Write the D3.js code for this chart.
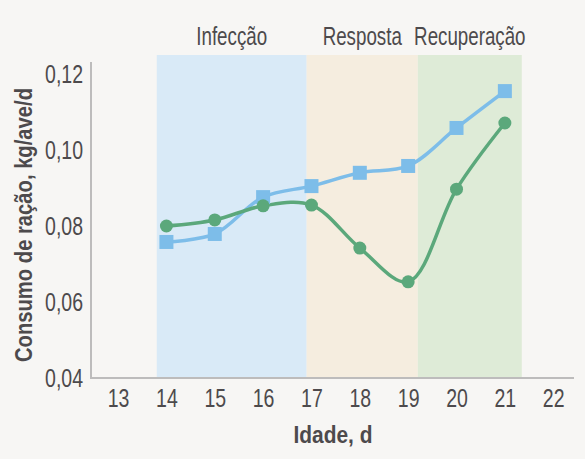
<!DOCTYPE html>
<html>
<head>
<meta charset="utf-8">
<script src="https://cdn.jsdelivr.net/npm/d3@7"></script>
<style>
  body { margin: 0; background: #f7f6f4; }
  svg { display: block; font-family: "Liberation Sans", Arial, sans-serif; }
</style>
</head>
<body>
<div id="chart"></div>
<script>
const days = [14, 15, 16, 17, 18, 19, 20, 21];
const blueSeries = [0.0758, 0.0779, 0.0876, 0.0905, 0.0940, 0.0958, 0.1058, 0.1155];
const greenSeries = [0.0800, 0.0816, 0.0853, 0.0855, 0.0742, 0.0653, 0.0897, 0.1071];
const xTicks = [13, 14, 15, 16, 17, 18, 19, 20, 21, 22];
const yTicks = [0.04, 0.06, 0.08, 0.10, 0.12];
const phases = [
  { name: 'Infecção', start: 13.8, end: 16.9, color: '#d9eaf7' },
  { name: 'Resposta', start: 16.9, end: 19.2, color: '#f5eddf' },
  { name: 'Recuperação', start: 19.2, end: 21.35, color: '#deebd7' }
];

const width = 585, height = 459;
const textColor = '#4d4a4c';
const narrow = 0.78; // the original uses a condensed face

// squeeze text horizontally to mimic a condensed font
function condense(sel, k) {
  sel.each(function () {
    const len = this.getComputedTextLength();
    d3.select(this).attr('textLength', len * k).attr('lengthAdjust', 'spacingAndGlyphs');
  });
}

const svg = d3.select('#chart').append('svg')
  .attr('width', width)
  .attr('height', height);

svg.append('rect').attr('width', width).attr('height', height).attr('fill', '#f7f6f4');

const x = d3.scaleLinear().domain([12.44, 22.43]).range([91, 574]);
const y = d3.scaleLinear().domain([0.04, 0.12]).range([378, 74]);

// phase bands
svg.selectAll('.band')
  .data(phases)
  .join('rect')
  .attr('class', 'band')
  .attr('x', d => x(d.start))
  .attr('width', d => x(d.end) - x(d.start))
  .attr('y', 55)
  .attr('height', y(0.04) - 55)
  .attr('fill', d => d.color);

svg.selectAll('.phase-label')
  .data(phases)
  .join('text')
  .attr('class', 'phase-label')
  .attr('transform', d => `translate(${x((d.start + d.end) / 2)},45) scale(0.75,1)`)
  .attr('text-anchor', 'middle')
  .attr('font-size', 25)
  .attr('fill', textColor)
  .text(d => d.name);

// axes
const fmt = d => d3.format('.2f')(d).replace('.', ',');

const yAxis = svg.append('g')
  .attr('transform', `translate(${x.range()[0]},0)`)
  .call(d3.axisLeft(y).tickValues(yTicks).tickFormat(fmt).tickSize(0).tickPadding(8));
yAxis.select('.domain').remove();
yAxis.selectAll('text').attr('font-size', 25).attr('fill', textColor).attr('font-family', null).call(condense, narrow);

const xAxis = svg.append('g')
  .attr('transform', `translate(0,${y(0.04)})`)
  .call(d3.axisBottom(x).tickValues(xTicks).tickFormat(d3.format('d')).tickSize(0).tickPadding(11));
xAxis.select('.domain').remove();
xAxis.selectAll('text').attr('font-size', 25).attr('fill', textColor).attr('font-family', null).call(condense, narrow);

svg.append('line')
  .attr('x1', 91).attr('x2', 91).attr('y1', 62).attr('y2', y(0.04))
  .attr('stroke', '#bdbcbc').attr('stroke-width', 2);
svg.append('line')
  .attr('x1', 90).attr('x2', 574).attr('y1', y(0.04)).attr('y2', y(0.04))
  .attr('stroke', '#bdbcbc').attr('stroke-width', 2);

// titles
svg.append('text')
  .attr('transform', 'translate(32,225) rotate(-90)')
  .attr('text-anchor', 'middle')
  .attr('font-size', 23)
  .attr('font-weight', 'bold')
  .attr('fill', textColor)
  .attr('textLength', 274)
  .attr('lengthAdjust', 'spacingAndGlyphs')
  .text('Consumo de ração, kg/ave/d');

svg.append('text')
  .attr('x', 333)
  .attr('y', 443)
  .attr('text-anchor', 'middle')
  .attr('font-size', 24)
  .attr('font-weight', 'bold')
  .attr('fill', textColor)
  .attr('textLength', 79)
  .attr('lengthAdjust', 'spacingAndGlyphs')
  .text('Idade, d');

// lines
const line = d3.line()
  .x(d => x(d[0]))
  .y(d => y(d[1]))
  .curve(d3.curveCatmullRom);

const blueData = days.map((d, i) => [d, blueSeries[i]]);
const greenData = days.map((d, i) => [d, greenSeries[i]]);

svg.append('path')
  .datum(blueData)
  .attr('fill', 'none')
  .attr('stroke', '#7dbde9')
  .attr('stroke-width', 3.5)
  .attr('d', line);

svg.append('path')
  .datum(greenData)
  .attr('fill', 'none')
  .attr('stroke', '#5ba87b')
  .attr('stroke-width', 3.5)
  .attr('d', line);

svg.selectAll('.sq')
  .data(blueData)
  .join('rect')
  .attr('class', 'sq')
  .attr('x', d => x(d[0]) - 7)
  .attr('y', d => y(d[1]) - 7)
  .attr('width', 14)
  .attr('height', 14)
  .attr('fill', '#7dbde9');

svg.selectAll('.dot')
  .data(greenData)
  .join('circle')
  .attr('class', 'dot')
  .attr('cx', d => x(d[0]))
  .attr('cy', d => y(d[1]))
  .attr('r', 6.5)
  .attr('fill', '#5ba87b');
</script>
</body>
</html>
